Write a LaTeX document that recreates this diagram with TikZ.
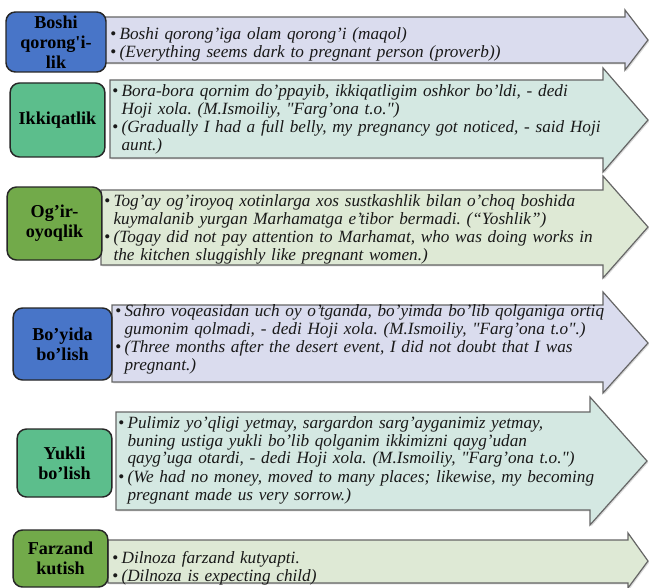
\documentclass[tikz,border=0pt]{standalone}
\usepackage{fontspec}
\setmainfont{Liberation Serif}
\usetikzlibrary{positioning,shadows}
\frenchspacing

\definecolor{bluebox}{RGB}{72,117,200}
\definecolor{tealbox}{RGB}{92,190,140}
\definecolor{olivebox}{RGB}{114,170,74}
\definecolor{lavfill}{RGB}{218,220,238}
\definecolor{tealfill}{RGB}{212,232,226}
\definecolor{grnfill}{RGB}{222,233,213}

% bullet line with hanging indent
\newcommand{\itm}{\par\noindent\hangindent=7pt\hangafter=1\makebox[7pt][l]{\upshape\textbullet}}
\newcommand{\qq}{\textquotedbl}

\begin{document}
\begin{tikzpicture}[x=0.75pt, y=-0.75pt,
    box/.style={rectangle, rounded corners=7pt, draw=black!85, line width=1.1pt, align=center, inner sep=0pt, font=\fontsize{13.6}{15}\selectfont\bfseries},
    arw/.style={draw=black!60, line width=0.9pt, drop shadow={shadow xshift=1pt, shadow yshift=-1pt, opacity=0.3}},
    txt/.style={anchor=west, text width=430pt, inner sep=0pt, text=black!90, font=\fontsize{12.9}{13.1}\selectfont\itshape\setlength{\parskip}{1pt}}]
  \useasboundingbox (0,0) rectangle (649,588);

  % arrows
  \draw[arw, fill=lavfill] (104,17) -- (625,17) -- (625,10) -- (648,40) -- (625,70) -- (625,63) -- (104,63) -- cycle;
  \draw[arw, fill=tealfill] (110,80) -- (603,80) -- (603,68) -- (648,120) -- (603,172) -- (603,158) -- (110,158) -- cycle;
  \draw[arw, fill=grnfill] (101,190) -- (603,190) -- (603,176) -- (648,227) -- (603,278) -- (603,265) -- (101,265) -- cycle;
  \draw[arw, fill=lavfill] (112,305) -- (603,305) -- (603,292) -- (648,343) -- (603,393) -- (603,382) -- (112,382) -- cycle;
  \draw[arw, fill=tealfill] (116,412) -- (590,412) -- (590,397) -- (647,461) -- (590,525) -- (590,510) -- (116,510) -- cycle;
  \draw[arw, fill=grnfill] (108,540) -- (628,540) -- (628,533) -- (648,561) -- (628,588) -- (628,583) -- (108,583) -- cycle;

  % labels
  \node[box, fill=bluebox, minimum width=75pt, minimum height=45pt] (b1) at (56,42) {Boshi\\qorong\textquotesingle i-\\lik};
  \node[box, fill=tealbox, minimum width=71pt, minimum height=55.5pt] (b2) at (57.5,120) {Ikkiqatlik};
  \node[box, fill=olivebox, minimum width=71pt, minimum height=54.75pt] (b3) at (54.5,223.5) {Og’ir-\\oyoqlik};
  \node[box, fill=bluebox, minimum width=74pt, minimum height=54pt] (b4) at (62.5,344) {Bo’yida\\bo’lish};
  \node[box, fill=tealbox, minimum width=71pt, minimum height=51pt] (b5) at (64.5,463) {Yukli\\bo’lish};
  \node[box, fill=olivebox, minimum width=71pt, minimum height=42.75pt] (b6) at (60.5,558.5) {Farzand\\kutish};

  % texts
  \node[txt] (t1) at (110,41) {\itm Boshi qorong’iga olam qorong’i (maqol)\itm (Everything seems dark to pregnant person (proverb))\par};
  \node[txt] (t2) at (112,116) {\itm Bora-bora qornim do’ppayib, ikkiqatligim oshkor bo’ldi, - dedi\newline Hoji xola. (M.Ismoiliy, \qq Farg’ona t.o.\qq)\itm (Gradually I had a full belly, my pregnancy got noticed, - said Hoji\newline aunt.)\par};
  \node[txt] (t3) at (104,226) {\itm Tog’ay og’iroyoq xotinlarga xos sustkashlik bilan o’choq boshida\newline kuymalanib yurgan Marhamatga e’tibor bermadi. (``Yoshlik'')\itm (Togay did not pay attention to Marhamat, who was doing works in\newline the kitchen sluggishly like pregnant women.)\par};
  \node[txt] (t4) at (115,336) {\itm Sahro voqeasidan uch oy o’tganda, bo’yimda bo’lib qolganiga ortiq\newline gumonim qolmadi, - dedi Hoji xola. (M.Ismoiliy, \qq Farg’ona t.o\qq.)\itm (Three months after the desert event, I did not doubt that I was\newline pregnant.)\par};
  \node[txt] (t5) at (118,457) {\itm Pulimiz yo’qligi yetmay, sargardon sarg’ayganimiz yetmay,\newline buning ustiga yukli bo’lib qolganim ikkimizni qayg’udan\newline qayg’uga otardi, - dedi Hoji xola. (M.Ismoiliy, \qq Farg’ona t.o.\qq)\itm (We had no money, moved to many places; likewise, my becoming\newline pregnant made us very sorrow.)\par};
  \node[txt] (t6) at (112,565) {\itm Dilnoza farzand kutyapti.\itm (Dilnoza is expecting child)\par};
\end{tikzpicture}
\end{document}
